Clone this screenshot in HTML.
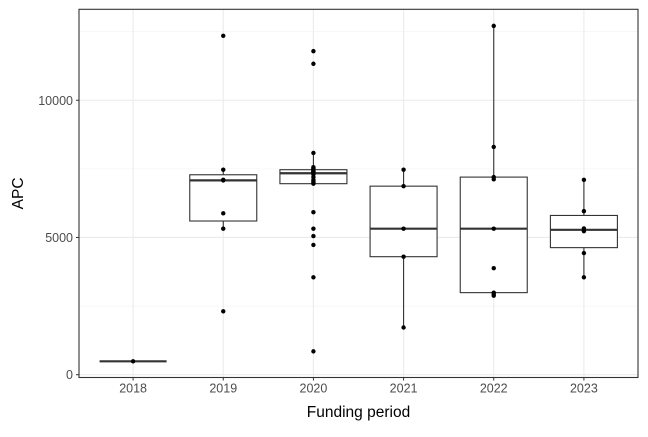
<!DOCTYPE html>
<html><head><meta charset="utf-8"><style>
body{margin:0;background:#fff;}
svg text{font-family:"Liberation Sans",sans-serif;}
</style></head><body>
<svg id="chart" width="648" height="432" xmlns="http://www.w3.org/2000/svg"></svg>
<script>
const categories = ["2018","2019","2020","2021","2022","2023"];
const apc2018 = [487];
const apc2019 = [2310,5320,5880,7080,7100,7470,12350];
const apc2020 = [850,3550,4730,5050,5320,5920,6960,7000,7050,7100,7200,7300,7340,7350,7380,7400,7420,7450,7470,7500,7520,7560,8080,11330,11790];
const apc2021 = [1720,4300,5320,6870,7470];
const apc2022 = [2880,2940,2990,3880,5320,7120,7200,8300,12710];
const apc2023 = [3550,4430,5230,5330,5960,7100];
const seriesValues = [apc2018,apc2019,apc2020,apc2021,apc2022,apc2023];
const yTicks = [0,5000,10000];
const yMinor = [2500,7500,12500];

const NS="http://www.w3.org/2000/svg";
const svg=document.getElementById('chart');
const L=79,R=638,T=9.3,B=377.5;
const step=(R-L)/6.2;
function xs(i){return L+(0.6+i)*step;}
function ys(v){return 374.7-v*0.027444;}
function el(tag,attrs,parent){const e=document.createElementNS(NS,tag);for(const k in attrs)e.setAttribute(k,attrs[k]);(parent||svg).appendChild(e);return e;}
function q(arr,p){const s=[...arr].sort((a,b)=>a-b);const pos=(s.length-1)*p;const lo=Math.floor(pos),hi=Math.ceil(pos);return s[lo]+(s[hi]-s[lo])*(pos-lo);}

el('rect',{x:L,y:T,width:R-L,height:B-T,fill:'#fff'});
yMinor.forEach(v=>{const g=el('line',{x1:L,x2:R,y1:ys(v),y2:ys(v),stroke:'#f2f2f2','stroke-width':0.6});

});
yTicks.forEach(v=>{const g=el('line',{x1:L,x2:R,y1:ys(v),y2:ys(v),stroke:'#ebebeb','stroke-width':1.1});


const t=el('text',{x:L-6,y:ys(v)+4.5,'text-anchor':'end','font-size':12.5,fill:'#4d4d4d'});t.textContent=v;


el('line',{x1:L-3,x2:L,y1:ys(v),y2:ys(v),stroke:'#333','stroke-width':1});});
categories.forEach((c,i)=>{const x=xs(i);
const g=el('line',{x1:x,x2:x,y1:T,y2:B,stroke:'#ebebeb','stroke-width':1.1});


el('line',{x1:x,x2:x,y1:B,y2:B+3,stroke:'#333','stroke-width':1});
const t=el('text',{x:x,y:B+15,'text-anchor':'middle','font-size':12.5,fill:'#4d4d4d'});t.textContent=c;

});

seriesValues.forEach((vals,i)=>{
const x=xs(i),w=67;
const q1=q(vals,0.25),md=q(vals,0.5),q3=q(vals,0.75),iqr=q3-q1;
const inside=vals.filter(v=>v>=q1-1.5*iqr&&v<=q3+1.5*iqr);
const lo=Math.min(...inside),hi=Math.max(...inside);
const g=el('g',{});


el('line',{x1:x,x2:x,y1:ys(hi),y2:ys(q3),stroke:'#333','stroke-width':1.1},g);
el('line',{x1:x,x2:x,y1:ys(q1),y2:ys(lo),stroke:'#333','stroke-width':1.1},g);
el('rect',{x:x-w/2,y:ys(q3),width:w,height:Math.max(0,ys(q1)-ys(q3)),fill:'#fff',stroke:'#333','stroke-width':1.1},g);
el('line',{x1:x-w/2,x2:x+w/2,y1:ys(md),y2:ys(md),stroke:'#333','stroke-width':2.2},g);
vals.forEach(v=>{const p=el('circle',{cx:x,cy:ys(v),r:2.2,fill:'#000'},g);

});
});
el('rect',{x:L,y:T,width:R-L,height:B-T,fill:'none',stroke:'#333','stroke-width':1.1});
const xt=el('text',{x:(L+R)/2,y:417,'text-anchor':'middle','font-size':15.5,fill:'#000'});xt.textContent='Funding period';


const yt=el('text',{x:0,y:0,transform:'translate(23,'+((T+B)/2)+') rotate(-90)','text-anchor':'middle','font-size':15.5,fill:'#000'});yt.textContent='APC';


</script>
</body></html>
